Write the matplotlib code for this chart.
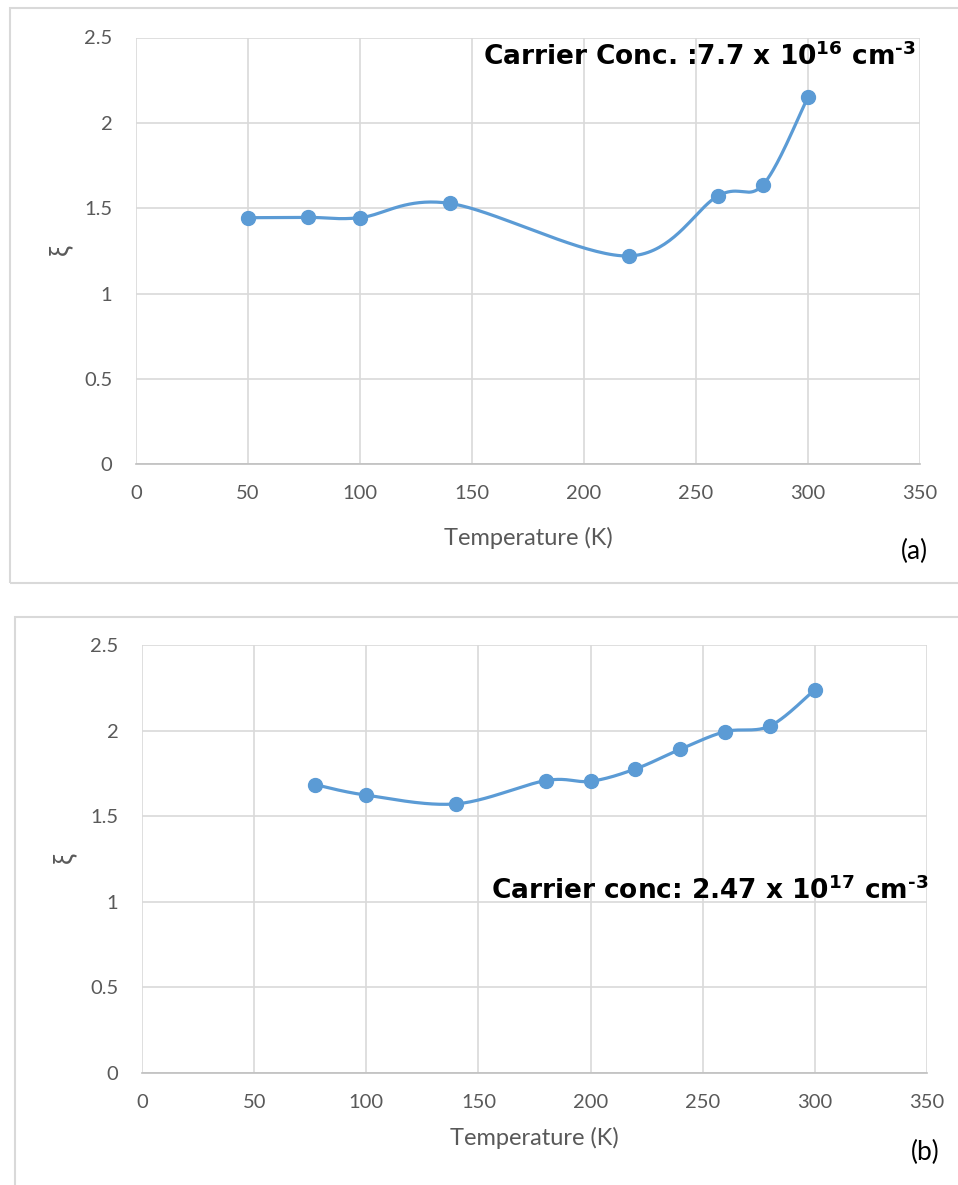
import matplotlib
matplotlib.use("Agg")
import matplotlib.pyplot as plt
from matplotlib.patches import Rectangle
import numpy as np

plt.rcParams['font.family'] = ['Lato', 'DejaVu Sans']
plt.rcParams['mathtext.fontset'] = 'dejavusans'

# xi vs temperature, two carrier concentrations
tempA = [50, 77, 100, 140, 220, 260, 280, 300]
xiA = [1.445, 1.447, 1.445, 1.529, 1.221, 1.574, 1.639, 2.153]

tempB = [77, 100, 140, 180, 200, 220, 240, 260, 280, 300]
xiB = [1.685, 1.623, 1.572, 1.708, 1.704, 1.776, 1.891, 1.994, 2.027, 2.239]

xticks = [0, 50, 100, 150, 200, 250, 300, 350]
yticks = [0, 0.5, 1, 1.5, 2, 2.5]
xlabel = 'Temperature (K)'
ylabel = '\u03be'
noteA = 'Carrier Conc. :7.7 x 10$^{\\mathbf{16}}$ cm$^{\\mathbf{\u20103}}$'
noteB = 'Carrier conc: 2.47 x 10$^{\\mathbf{17}}$ cm$^{\\mathbf{\u20103}}$'

blue = '#5B9BD5'
grey_txt = '#595959'
grid_c = '#D9D9D9'


def smooth(x, y, w, h, n=40):
    # excel style smoothed line: bezier through points, done in pixel space
    px = np.asarray(x, float) / 350.0 * w
    py = np.asarray(y, float) / 2.5 * h
    P = np.column_stack([px, py])
    P = np.vstack([P[0], P, P[-1]])
    out = []
    t = np.linspace(0, 1, n)[:, None]
    for i in range(1, len(P) - 2):
        p0, p1, p2, p3 = P[i - 1], P[i], P[i + 1], P[i + 2]
        c1 = p1 + (p2 - p0) / 6.0
        c2 = p2 - (p3 - p1) / 6.0
        seg = (1 - t) ** 3 * p1 + 3 * (1 - t) ** 2 * t * c1 + 3 * (1 - t) * t ** 2 * c2 + t ** 3 * p2
        out.append(seg)
    out = np.vstack(out)
    return out[:, 0] / w * 350.0, out[:, 1] / h * 2.5


W, H = 958, 1185
fig = plt.figure(figsize=(W / 100, H / 100), dpi=100)

# panel frames
fig.patches.append(Rectangle((10 / W, 1 - 583 / H), 1.0, (583 - 7.5) / H, transform=fig.transFigure,
                             fill=False, edgecolor=grid_c, lw=1.5))
fig.patches.append(Rectangle((14.7 / W, -0.05), 1.0, 0.05 + 1 - 616.7 / H, transform=fig.transFigure,
                             fill=False, edgecolor=grid_c, lw=1.5))


def panel(rect, t, xi, note, note_xy, note_ha, tag, tag_xy, ylab_xy, xlpad):
    ax = fig.add_axes(rect)
    w = rect[2] * W
    h = rect[3] * H
    sx, sy = smooth(t, xi, w, h)
    ax.plot(sx, sy, color=blue, lw=2.3, solid_capstyle='round', zorder=3)
    ax.plot(t, xi, 'o', color=blue, ms=10, zorder=4)
    ax.set_xlim(0, 350)
    ax.set_ylim(0, 2.5)
    ax.set_xticks(xticks)
    ax.set_yticks(yticks)
    ax.set_yticklabels(['0', '0.5', '1', '1.5', '2', '2.5'])
    ax.grid(True, color=grid_c, lw=1.2)
    ax.set_axisbelow(True)
    for s in ['top', 'right', 'left']:
        ax.spines[s].set_visible(False)
    ax.spines['bottom'].set_color('#BFBFBF')
    ax.spines['bottom'].set_linewidth(1.2)
    ax.tick_params(length=0, labelsize=14.5, labelcolor=grey_txt)
    ax.tick_params(axis='y', pad=17)
    ax.tick_params(axis='x', pad=15)
    ax.set_xlabel(xlabel, fontsize=17, color=grey_txt, labelpad=xlpad)
    ax.text(note_xy[0], note_xy[1], note, transform=ax.transAxes, ha=note_ha, va='baseline',
            fontsize=19, fontweight='bold', family='DejaVu Sans', color='black')
    fig.text(tag_xy[0] / W, 1 - tag_xy[1] / H, tag, fontsize=19, ha='center', va='center', color='black')
    fig.text(ylab_xy[0] / W, 1 - ylab_xy[1] / H, ylabel, fontsize=19, rotation=90,
             ha='center', va='center', color=grey_txt)
    return ax


panel([136 / W, 1 - 464.5 / H, 784 / W, 427 / H], tempA, xiA,
      noteA, (0.995, 0.9356), 'right', '(a)', (914, 551), (61, 250), 18)

panel([142 / W, 1 - 1073 / H, 785 / W, 428 / H], tempB, xiB,
      noteB, (0.4446, 0.4065), 'left', '(b)', (925, 1152), (65, 858), 11.5)

fig.savefig('out.png', dpi=100)
